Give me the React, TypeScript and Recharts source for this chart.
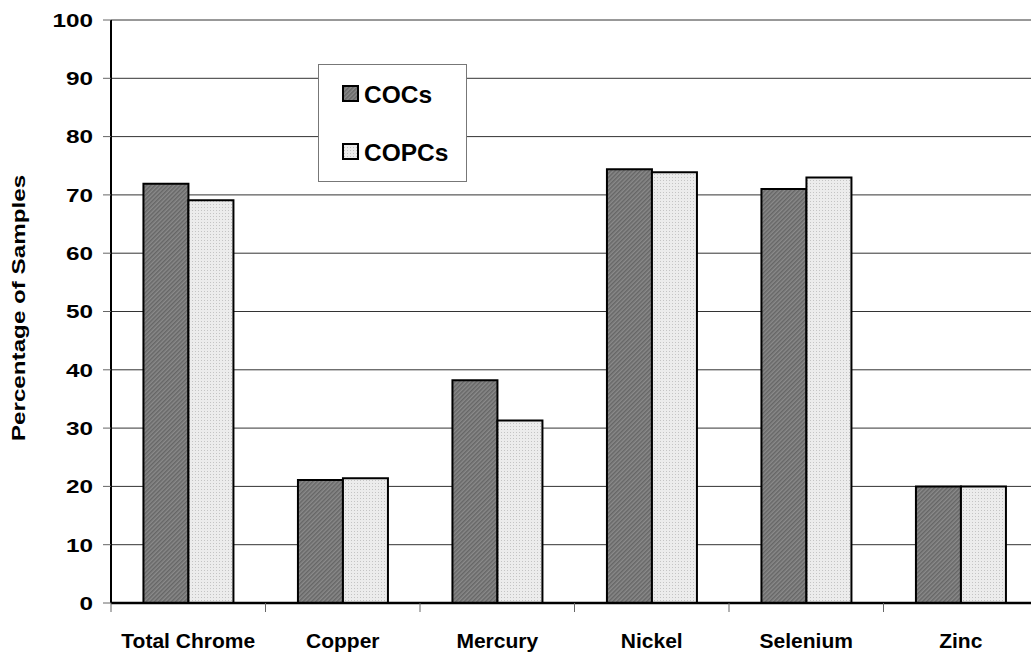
import React from 'react';
import { BarChart, Bar, XAxis, YAxis, CartesianGrid } from 'recharts';

const categories = ['Total Chrome', 'Copper', 'Mercury', 'Nickel', 'Selenium', 'Zinc'];
const cocsValues = [71.9, 21.1, 38.2, 74.4, 71.0, 20.0];
const copcsValues = [69.1, 21.4, 31.3, 73.9, 73.0, 20.0];
const seriesNames = ['COCs', 'COPCs'];
const yTicks = [0, 10, 20, 30, 40, 50, 60, 70, 80, 90, 100];

const data = categories.map((name, i) => ({
  name,
  cocs: cocsValues[i],
  copcs: copcsValues[i],
}));

const FONT = '"Liberation Sans", Arial, Helvetica, sans-serif';

const YTick = (props: any) => {
  const { x, y, payload } = props;
  return (
    <text
      transform={`translate(${x},${y + 6.8}) scale(1.28,1)`}
      textAnchor="end"
      fontFamily={FONT}
      fontWeight="bold"
      fontSize={19}
      fill="#000"
    >
      {payload.value}
    </text>
  );
};

const XTick = (props: any) => {
  const { x, y, payload } = props;
  const half = payload.offset || 77.25;
  return (
    <g>
      <line x1={x - half} x2={x - half} y1={y} y2={y + 9} stroke="#666" strokeWidth={1} />
      <text x={x} y={y + 45} textAnchor="middle" fontFamily={FONT} fontWeight="bold" fontSize={21} fill="#000">
        {payload.value}
      </text>
    </g>
  );
};

const YLabel = () => (
  <text
    transform="translate(25,308) rotate(-90) scale(1.36,1)"
    textAnchor="middle"
    fontFamily={FONT}
    fontWeight="bold"
    fontSize={17.8}
    fill="#000"
  >
    Percentage of Samples
  </text>
);

const Legend = () => (
  <svg width={152} height={122} style={{ position: 'absolute', left: 317, top: 63 }}>
    <rect x={1.5} y={1.5} width={148} height={117} fill="#fff" stroke="#777" strokeWidth={1} />
    <rect x={26} y={23} width={15} height={15} fill="url(#hatchDark)" stroke="#000" strokeWidth={2} />
    <text x={47} y={40} fontFamily={FONT} fontWeight="bold" fontSize={24.5} fill="#000">{seriesNames[0]}</text>
    <rect x={26} y={81} width={15} height={15} fill="url(#dotLight)" stroke="#000" strokeWidth={2} />
    <text x={47} y={98} fontFamily={FONT} fontWeight="bold" fontSize={24.5} fill="#000">{seriesNames[1]}</text>
  </svg>
);

export default function App() {
  return (
    <div style={{ position: 'absolute', left: 0, top: 0, width: 1031, height: 653, overflow: 'hidden', background: '#fff' }}>
      <BarChart
        width={1040}
        height={653}
        data={data}
        margin={{ top: 20, right: 2, bottom: 0, left: 0 }}
        barCategoryGap="21%"
        barGap={0}
      >
        <defs>
          <pattern id="hatchDark" width="3" height="3" patternUnits="userSpaceOnUse" patternTransform="rotate(45)">
            <rect width="3" height="3" fill="#8a8a8a" />
            <rect width="1.5" height="3" fill="#666" />
          </pattern>
          <pattern id="dotLight" width="3" height="3" patternUnits="userSpaceOnUse">
            <rect width="3" height="3" fill="#ececec" />
            <rect width="1" height="1" fill="#c4c4c4" />
          </pattern>
        </defs>
        <CartesianGrid vertical={false} stroke="#333" strokeWidth={1} />
        <XAxis
          dataKey="name"
          height={50}
          tickLine={false}
          tickSize={0}
          tickMargin={0}
          axisLine={{ stroke: '#000', strokeWidth: 2.5 }}
          tick={<XTick />}
          interval={0}
        />
        <YAxis
          width={111}
          domain={[0, 100]}
          ticks={yTicks}
          tickSize={8}
          tickMargin={10}
          tickLine={{ stroke: '#666' }}
          axisLine={{ stroke: '#000', strokeWidth: 2 }}
          tick={<YTick />}
          label={{ content: () => <YLabel /> }}
          interval={0}
        />
        <Bar dataKey="cocs" name={seriesNames[0]} fill="url(#hatchDark)" stroke="#000" strokeWidth={2} isAnimationActive={false} />
        <Bar dataKey="copcs" name={seriesNames[1]} fill="url(#dotLight)" stroke="#000" strokeWidth={2} isAnimationActive={false} />
      </BarChart>
      <Legend />
    </div>
  );
}
